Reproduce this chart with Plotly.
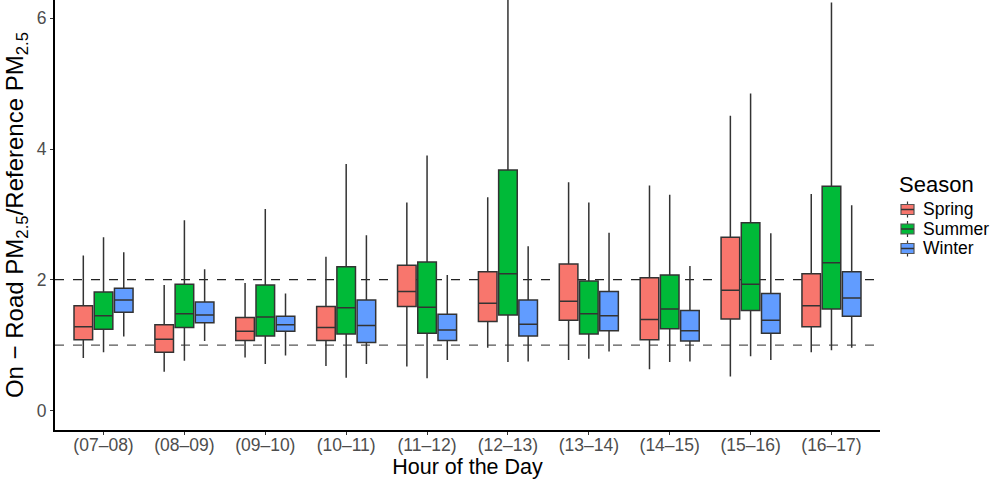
import plotly.graph_objects as go

hours = ["(07–08)", "(08–09)", "(09–10)", "(10–11)", "(11–12)",
         "(12–13)", "(13–14)", "(14–15)", "(15–16)", "(16–17)"]
seasons = ["Spring", "Summer", "Winter"]
colors = ["#F8766D", "#00BA38", "#619CFF"]

# per-season box statistics, one value per hour
spring_low = [0.80, 0.59, 0.81, 0.68, 0.67, 0.96, 0.77, 0.63, 0.52, 0.89]
spring_q1 = [1.08, 0.89, 1.07, 1.07, 1.59, 1.36, 1.38, 1.08, 1.40, 1.28]
spring_med = [1.28, 1.09, 1.21, 1.27, 1.82, 1.64, 1.67, 1.39, 1.84, 1.60]
spring_q3 = [1.60, 1.31, 1.42, 1.59, 2.22, 2.12, 2.24, 2.03, 2.65, 2.09]
spring_high = [2.37, 1.92, 1.95, 2.35, 3.18, 3.26, 3.49, 3.44, 4.51, 3.31]

summer_low = [0.89, 0.76, 0.71, 0.50, 0.49, 0.74, 0.79, 0.74, 0.83, 0.92]
summer_q1 = [1.24, 1.27, 1.14, 1.17, 1.18, 1.46, 1.17, 1.25, 1.53, 1.55]
summer_med = [1.45, 1.48, 1.43, 1.57, 1.58, 2.09, 1.48, 1.55, 1.93, 2.26]
summer_q3 = [1.81, 1.93, 1.92, 2.20, 2.27, 3.68, 1.98, 2.07, 2.87, 3.43]
summer_high = [2.65, 2.91, 3.08, 3.77, 3.90, 6.60, 3.18, 3.30, 4.85, 6.24]

winter_low = [1.13, 1.06, 0.84, 0.71, 0.77, 0.75, 0.90, 0.75, 0.77, 0.96]
winter_q1 = [1.50, 1.34, 1.21, 1.04, 1.07, 1.14, 1.22, 1.06, 1.18, 1.44]
winter_med = [1.69, 1.46, 1.31, 1.30, 1.23, 1.32, 1.45, 1.22, 1.38, 1.72]
winter_q3 = [1.87, 1.66, 1.44, 1.69, 1.47, 1.69, 1.82, 1.53, 1.79, 2.12]
winter_high = [2.42, 2.16, 1.79, 2.68, 2.07, 2.51, 2.72, 2.21, 2.71, 3.14]

stats = [
    (spring_low, spring_q1, spring_med, spring_q3, spring_high),
    (summer_low, summer_q1, summer_med, summer_q3, summer_high),
    (winter_low, winter_q1, winter_med, winter_q3, winter_high),
]

ref_lines = [1, 2]
y_ticks = [0, 2, 4, 6]

fig = go.Figure()
for name, col, (lo, q1, md, q3, hi) in zip(seasons, colors, stats):
    fig.add_trace(go.Box(
        name=name, x=hours, lowerfence=lo, q1=q1, median=md, q3=q3,
        upperfence=hi, fillcolor=col, line=dict(color="#333333", width=1.5),
        whiskerwidth=0, boxpoints=False, hoverinfo="skip", showlegend=False,
    ))

for v in ref_lines:
    fig.add_shape(type="line", xref="paper", x0=0, x1=1, yref="y", y0=v, y1=v,
                  line=dict(color="#555555" if v == 1 else "#222222", width=1.3, dash="dash"),
                  layer="below")

# legend drawn as key glyphs + text (ggplot style, tight spacing)
PLOT_W, PLOT_H = 998 - 55 - 118, 479 - 49


def px_x(px):
    return (px - 55) / PLOT_W


def px_y(py):
    return (430 - py) / PLOT_H


fig.add_annotation(text="Season", xref="paper", yref="paper", x=px_x(897), y=px_y(184),
                   xanchor="left", yanchor="middle", showarrow=False,
                   font=dict(size=22, color="black"))
legend_y = [209.5, 229, 248.5]
for name, col, cy in zip(seasons, colors, legend_y):
    fig.add_shape(type="line", xref="paper", yref="paper", x0=px_x(907.5), x1=px_x(907.5),
                  y0=px_y(cy - 8), y1=px_y(cy + 8), line=dict(color="#333333", width=1.2))
    fig.add_shape(type="rect", xref="paper", yref="paper", x0=px_x(901), x1=px_x(914),
                  y0=px_y(cy - 5), y1=px_y(cy + 5), fillcolor=col,
                  line=dict(color="#555555", width=1.2))
    fig.add_shape(type="line", xref="paper", yref="paper", x0=px_x(901), x1=px_x(914),
                  y0=px_y(cy), y1=px_y(cy), line=dict(color="#333333", width=1.5))
    fig.add_annotation(text=name, xref="paper", yref="paper", x=px_x(921), y=px_y(cy),
                       xanchor="left", yanchor="middle", showarrow=False,
                       font=dict(size=17.5, color="black"))

fig.update_layout(
    width=998, height=479,
    margin=dict(l=55, r=118, t=0, b=49, autoexpand=False),
    paper_bgcolor="white", plot_bgcolor="white",
    boxmode="group", boxgap=0.25, boxgroupgap=0.08,
    font=dict(family="Liberation Sans, Arial, sans-serif", color="black"),
    showlegend=False,
)
fig.update_xaxes(
    categoryorder="array", categoryarray=hours,
    range=[-0.6, len(hours) - 0.4],
    showline=True, linecolor="black", linewidth=2, mirror=False,
    ticks="outside", ticklen=3, tickcolor="#333333",
    tickfont=dict(size=17.5, color="#4D4D4D"), ticklabelstandoff=-5,
    showgrid=False, zeroline=False,
    title=dict(text="Hour of the Day", font=dict(size=21.5, color="black"), standoff=0),
    automargin=False,
)
fig.update_yaxes(
    range=[-0.30, 6.28], tickvals=y_ticks, ticktext=[str(t) for t in y_ticks],
    showline=True, linecolor="black", linewidth=2,
    ticks="outside", ticklen=3, tickcolor="#333333",
    tickfont=dict(size=17.5, color="#4D4D4D"),
    showgrid=False, zeroline=False,
    title=dict(text="On − Road PM<sub>2.5</sub>/Reference PM<sub>2.5</sub>",
               font=dict(size=24, color="black"), standoff=6),
    automargin=False,
)

fig.write_html("out.html")
